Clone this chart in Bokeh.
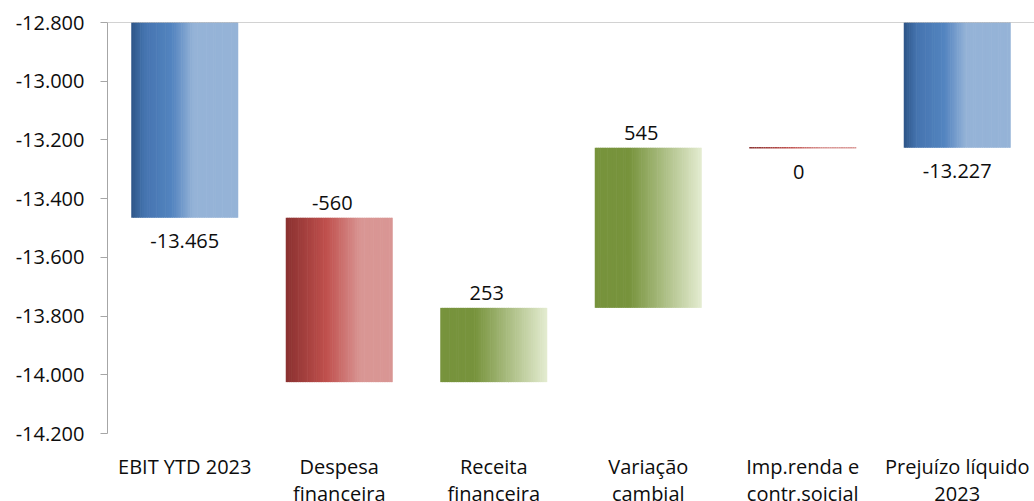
from bokeh.plotting import figure
from bokeh.models import Range1d, FixedTicker, Span
from bokeh.core.properties import value
from bokeh.embed import file_html
from bokeh.resources import INLINE

# ---- data ----
categories = ["EBIT YTD 2023", "Despesa\nfinanceira", "Receita\nfinanceira",
              "Variação\ncambial", "Imp.renda e\ncontr.soicial", "Prejuízo líquido\n2023"]
values = [-13465, -560, 253, 545, 0, -13227]
kinds = ["total", "delta", "delta", "delta", "delta", "total"]
value_labels = ["-13.465", "-560", "253", "545", "0", "-13.227"]
y_ticks = [-14200, -14000, -13800, -13600, -13400, -13200, -13000, -12800]
y_tick_labels = ["-14.200", "-14.000", "-13.800", "-13.600", "-13.400", "-13.200", "-13.000", "-12.800"]

FONT = "Open Sans"
TXT = "#0d0d0d"

# gradient stops
BLUE = [(0.0, "#2d5587"), (0.12, "#4574af"), (0.38, "#5384c0"), (0.45, "#6a94c8"),
        (0.58, "#95b3d7"), (1.0, "#95b3d7")]
RED = [(0.0, "#8a3130"), (0.38, "#c0504d"), (0.70, "#d99694"), (1.0, "#d99694")]
GREEN = [(0.0, "#77933c"), (0.32, "#77933c"), (1.0, "#e4ecd1")]


def hex2rgb(h):
    h = h.lstrip("#")
    return tuple(int(h[i:i + 2], 16) for i in (0, 2, 4))


def grad_color(stops, t):
    for (t0, c0), (t1, c1) in zip(stops[:-1], stops[1:]):
        if t0 <= t <= t1:
            f = 0 if t1 == t0 else (t - t0) / (t1 - t0)
            a, b = hex2rgb(c0), hex2rgb(c1)
            return "#%02x%02x%02x" % tuple(int(round(a[i] + (b[i] - a[i]) * f)) for i in range(3))
    return stops[-1][1]


y_min, y_max = y_ticks[0], y_ticks[-1]
px_per_unit = 411.0 / (y_max - y_min)       # plot-area height for the axis span
extra = 68.0 / px_per_unit                  # room below the axis for category labels

p = figure(width=1034, height=501, output_backend="svg", toolbar_location=None,
           x_range=Range1d(-0.5, len(categories) - 0.5),
           y_range=Range1d(y_min - extra, y_max),
           min_border_left=107, min_border_right=0, min_border_top=22, min_border_bottom=0)
p.outline_line_color = None
p.background_fill_color = "white"
p.border_fill_color = "white"
p.xgrid.visible = False
p.ygrid.visible = False

# y axis
ya = p.yaxis[0]
ya.bounds = (y_min, y_max)
ya.ticker = FixedTicker(ticks=y_ticks)
ya.major_label_overrides = {t: l for t, l in zip(y_ticks, y_tick_labels)}
ya.axis_line_color = "#a6a6a6"
ya.major_tick_line_color = "#a6a6a6"
ya.major_tick_out = 7
ya.major_tick_in = 0
ya.minor_tick_line_color = None
ya.major_label_standoff = 16
ya.major_label_text_font = FONT
ya.major_label_text_font_size = "20px"
ya.major_label_text_color = TXT

p.xaxis.visible = False

# top line (category axis crossing at max)
p.add_layout(Span(location=y_max, dimension="width", line_color="#a6a6a6", line_width=1))

# ---- waterfall geometry ----
hw = 0.3463
N = 60
running = 0
sl, sr, sb, st, sc = [], [], [], [], []
zx0, zx1, zy, zc = [], [], [], []
lx, ly, ltxt, loff, lxoff = [], [], [], [], []
for i, (v, k) in enumerate(zip(values, kinds)):
    if k == "total":
        b, t = v, 0
        stops = BLUE
        running = v
        ly.append(v); loff.append(23); lxoff.append(0)
    else:
        start, end = running, running + v
        b, t = min(start, end), max(start, end)
        stops = GREEN if v > 0 else RED
        running = end
        if v == 0:
            ly.append(end); loff.append(24); lxoff.append(-4)
        else:
            ly.append(t); loff.append(-15); lxoff.append(-7)
    lx.append(i)
    ltxt.append(value_labels[i])
    w = 2 * hw / N
    for j in range(N):
        x0 = i - hw + j * w
        col = grad_color(stops, (j + 0.5) / N)
        if b == t:
            zx0.append(x0); zx1.append(x0 + w * 1.02); zy.append(b); zc.append(col)
        else:
            sl.append(x0); sr.append(x0 + w * (1.35 if j < N - 1 else 1.0))
            sb.append(b); st.append(t); sc.append(col)

p.quad(left=sl, right=sr, bottom=sb, top=st, fill_color=sc, line_color=None)
p.segment(x0=zx0, x1=zx1, y0=zy, y1=zy, line_color=zc, line_width=1.5)

p.text(x=lx, y=ly, text=ltxt, x_offset=lxoff, y_offset=loff,
       text_align="center", text_baseline="middle",
       text_font=value(FONT), text_font_size="20px", text_color=TXT)

# category labels below the axis (clipped at the bottom edge as in the original)
p.text(x=list(range(len(categories))), y=[y_min] * len(categories), text=categories,
       y_offset=19, text_align="center", text_baseline="top",
       text_font=value(FONT), text_font_size="20px", text_color=TXT,
       text_line_height=1.0)

open("out.html", "w").write(file_html(p, INLINE))
